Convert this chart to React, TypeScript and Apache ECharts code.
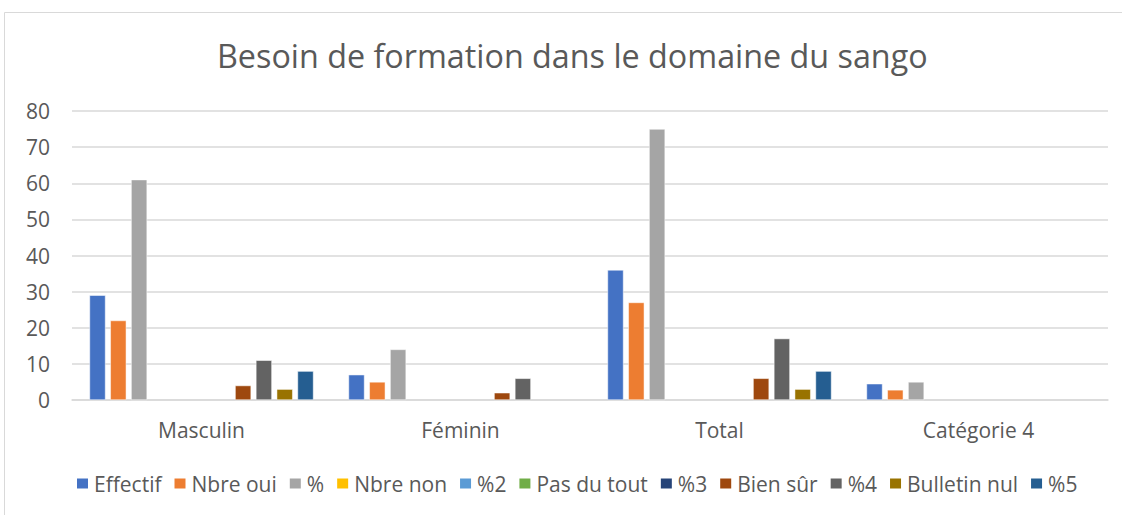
import React, { useEffect, useRef } from "react";
import * as echarts from "echarts";

const categories = ["Masculin", "Féminin", "Total", "Catégorie 4"];
const seriesNames = ["Effectif", "Nbre oui", "%", "Nbre non", "%2", "Pas du tout", "%3", "Bien sûr", "%4", "Bulletin nul", "%5"];
const effectif = [29, 7, 36, 4.5];
const nbreOui = [22, 5, 27, 2.8];
const pct = [61, 14, 75, 5];
const nbreNon = [null, null, null, null];
const pct2 = [null, null, null, null];
const pasDuTout = [null, null, null, null];
const pct3 = [null, null, null, null];
const bienSur = [4, 2, 6, null];
const pct4 = [11, 6, 17, null];
const bulletinNul = [3, null, 3, null];
const pct5 = [8, null, 8, null];
const colors = ["#4472C4", "#ED7D31", "#A5A5A5", "#FFC000", "#5B9BD5", "#70AD47", "#264478", "#9E480E", "#636363", "#997300", "#255E91"];
const yTicks = { min: 0, max: 80, interval: 10 };

const allData = [effectif, nbreOui, pct, nbreNon, pct2, pasDuTout, pct3, bienSur, pct4, bulletinNul, pct5];

export default function App() {
  const ref = useRef<HTMLDivElement>(null);
  useEffect(() => {
    document.body.style.margin = "0";
    const chart = echarts.init(ref.current!, null, { renderer: "svg" });
    const font = "'Open Sans', Lato, sans-serif";
    chart.setOption({
      animation: false,
      backgroundColor: "#fff",
      textStyle: { fontFamily: font },
      title: {
        text: "Besoin de formation dans le domaine du sango",
        left: 212,
        top: 34,
        textStyle: { fontFamily: font, fontSize: 32.3, fontWeight: "normal", color: "#595959" },
      },
      graphic: [
        {
          type: "rect",
          shape: { x: 4.5, y: 12.5, width: 1130, height: 520 },
          style: { fill: "none", stroke: "#D9D9D9", lineWidth: 1 },
          silent: true,
        },
      ],
      legend: {
        bottom: 16,
        left: 70,
        itemWidth: 13,
        itemHeight: 12,
        itemGap: 11,
        icon: "rect",
        textStyle: { fontFamily: font, fontSize: 21, color: "#595959" },
        data: seriesNames,
      },
      grid: { left: 72, right: 14, top: 111, bottom: 115 },
      xAxis: {
        type: "category",
        data: categories,
        axisLine: { lineStyle: { color: "#D9D9D9", width: 1.5 } },
        axisTick: { show: false },
        axisLabel: { fontFamily: font, fontSize: 21, color: "#595959", margin: 19 },
      },
      yAxis: {
        type: "value",
        min: yTicks.min,
        max: yTicks.max,
        interval: yTicks.interval,
        axisLine: { show: false },
        axisTick: { show: false },
        axisLabel: { fontFamily: font, fontSize: 21, color: "#595959", margin: 22 },
        splitLine: { lineStyle: { color: "#D9D9D9", width: 1.5 } },
      },
      series: seriesNames.map((name, i) => ({
        name,
        type: "bar",
        data: allData[i],
        barWidth: 16,
        barGap: "30%",
        itemStyle: { color: colors[i], borderColor: "#ffffff", borderWidth: 0.5 },
      })),
    });
    return () => chart.dispose();
  }, []);
  return <div ref={ref} style={{ width: 1122, height: 515 }} />;
}
